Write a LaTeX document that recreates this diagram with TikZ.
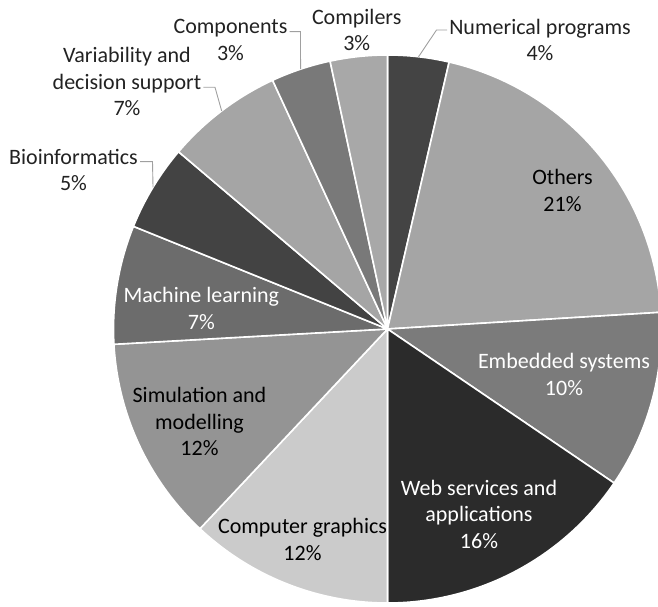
\documentclass[tikz,border=0pt]{standalone}
\usepackage{fontspec}
\setmainfont{Carlito}
\usetikzlibrary{calc}
\definecolor{numc}{HTML}{444444}
\definecolor{othersc}{HTML}{A5A5A5}
\definecolor{embc}{HTML}{7B7B7B}
\definecolor{webc}{HTML}{2B2B2B}
\definecolor{cgc}{HTML}{CBCBCB}
\definecolor{simc}{HTML}{949494}
\definecolor{mlc}{HTML}{6C6C6C}
\definecolor{bioc}{HTML}{434343}
\definecolor{varc}{HTML}{A5A5A5}
\definecolor{compc}{HTML}{797979}
\definecolor{compilersc}{HTML}{A8A8A8}
\definecolor{labtext}{HTML}{222222}
\definecolor{leadc}{HTML}{A0A0A0}
\begin{document}
\begin{tikzpicture}[x=1pt,y=1pt,
  slice/.style={draw=white,line width=1.6pt,line join=round},
  lab/.style={align=center,inner xsep=2pt,inner ysep=0pt,font=\fontsize{22}{26.7}\selectfont,text=labtext},
  inlab/.style={lab,text=black},
  wlab/.style={lab,text=white},
  leader/.style={draw=leadc,line width=0.9pt}]
\useasboundingbox (0,0) rectangle (658,606);
\clip (0,0) rectangle (658,606);
\coordinate (C) at (387.5,277);
\def\R{274pt}
% slices, clockwise from the top
\fill[numc,slice] (C) -- ++(90:\R) arc[start angle=90,end angle=77,radius=\R] -- cycle;
\fill[othersc,slice] (C) -- ++(77:\R) arc[start angle=77,end angle=3.5,radius=\R] -- cycle;
\fill[embc,slice] (C) -- ++(3.5:\R) arc[start angle=3.5,end angle=-34.2,radius=\R] -- cycle;
\fill[webc,slice] (C) -- ++(-34.2:\R) arc[start angle=-34.2,end angle=-90,radius=\R] -- cycle;
\fill[cgc,slice] (C) -- ++(-90:\R) arc[start angle=-90,end angle=-133.2,radius=\R] -- cycle;
\fill[simc,slice] (C) -- ++(-133.2:\R) arc[start angle=-133.2,end angle=-176.8,radius=\R] -- cycle;
\fill[mlc,slice] (C) -- ++(183.2:\R) arc[start angle=183.2,end angle=158,radius=\R] -- cycle;
\fill[bioc,slice] (C) -- ++(158:\R) arc[start angle=158,end angle=139.7,radius=\R] -- cycle;
\fill[varc,slice] (C) -- ++(139.7:\R) arc[start angle=139.7,end angle=114.8,radius=\R] -- cycle;
\fill[compc,slice] (C) -- ++(114.8:\R) arc[start angle=114.8,end angle=102.1,radius=\R] -- cycle;
\fill[compilersc,slice] (C) -- ++(102.1:\R) arc[start angle=102.1,end angle=90,radius=\R] -- cycle;
% labels
\node[lab] (numlab) at (540,566) {Numerical programs\\4\%};
\node[lab] (complab) at (230.5,566) {Components\\3\%};
\node[lab] (compilerslab) at (356.7,576) {Compilers\\3\%};
\node[lab] (varlab) at (127,524.3) {Variability and\\decision support\\7\%};
\node[lab] (biolab) at (73.5,436) {Bioinformatics\\5\%};
\node[inlab] (otherslab) at (562.5,415.3) {Others\\21\%};
\node[wlab] (embedlab) at (564,231.8) {Embedded systems\\10\%};
\node[wlab] (weblab) at (479,91.6) {Web services and\\applications\\16\%};
\node[inlab] (cglab) at (302.5,66.3) {Computer graphics\\12\%};
\node[inlab] (simlab) at (199.5,184.3) {Simulation and\\modelling\\12\%};
\node[wlab] (mllab) at (201.3,297.6) {Machine learning\\7\%};
% leader lines
\coordinate (numrim) at ($(C)+(83.5:\R)$);
\coordinate (numk) at (436.5,576);
\draw[leader] (numrim) -- (numk) -- (numk -| numlab.west);
\coordinate (comprim) at ($(C)+(108.5:\R)$);
\coordinate (compk) at (300.5,574.3);
\draw[leader] (comprim) -- (compk) -- (compk -| complab.east);
\coordinate (varrim) at ($(C)+(127.25:\R)$);
\coordinate (vark) at (215,518.7);
\draw[leader] (varrim) -- (vark) -- (vark -| varlab.east);
\coordinate (biorim) at ($(C)+(148.85:\R)$);
\coordinate (biok) at (152.5,444.3);
\draw[leader] (biorim) -- (biok) -- (biok -| biolab.east);
\end{tikzpicture}
\end{document}
